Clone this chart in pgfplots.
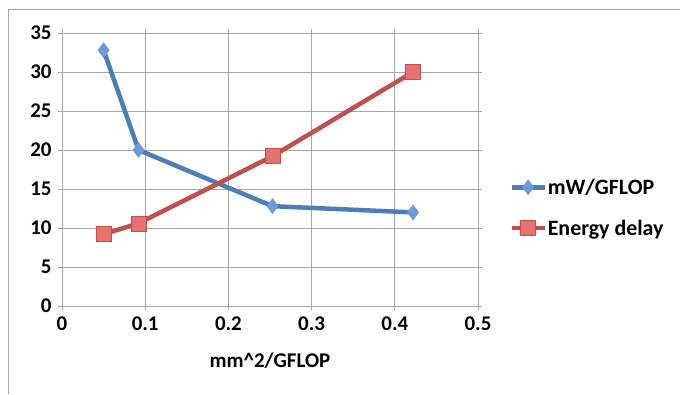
\documentclass[border=0pt]{standalone}
\usepackage{pgfplots}
\pgfplotsset{compat=1.18}
\usepackage{fontspec}
\setmainfont{Carlito}
\definecolor{bl}{HTML}{4A7EBB}
\definecolor{blf}{HTML}{6A9BD8}
\definecolor{rd}{HTML}{C0504D}
\definecolor{rdf}{HTML}{E8706C}
\definecolor{gr}{HTML}{A6A6A6}
\begin{document}
\begin{tikzpicture}[x=1bp,y=1bp]
\useasboundingbox (0,0) rectangle (680,394);
\draw[gr, line width=1bp] (8,0) -- (8,384) -- (680,384);
\begin{axis}[
  at={(62bp,88bp)}, anchor=south west,
  scale only axis, width=416bp, height=273bp,
  xmin=0, xmax=0.5, ymin=0, ymax=35,
  xtick={0,0.1,...,0.5}, ytick={0,5,...,35},
  xticklabels={0,0.1,0.2,0.3,0.4,0.5},
  grid=major,
  grid style={gr, line width=1bp},
  axis line style={gr, line width=1bp},
  tick style={gr, line width=1bp},
  tick align=outside, major tick length=4bp,
  tick label style={font=\fontsize{21}{23}\selectfont\bfseries},
  xticklabel style={yshift=-3bp},
  yticklabel style={xshift=-3bp},
  /pgf/number format/assume math mode=true,
  xlabel={mm\^{}2/GFLOP},
  xlabel style={font=\fontsize{21}{23}\selectfont\bfseries, at={(axis description cs:0.5,0)}, anchor=center, yshift=-55bp},
  legend style={at={(1.075,0.36)}, anchor=west, draw=none, fill=none,
    font=\fontsize{22}{24}\selectfont\bfseries, row sep=20bp,
    legend cell align=left, inner sep=0pt,
    nodes={inner xsep=1bp}},
  legend image code/.code={
    \draw[#1, mark repeat=2, mark phase=2] plot coordinates {(0cm,0cm) (0.58cm,0cm) (1.16cm,0cm)};},
  clip=false,
]
\addplot[bl, line width=4.5bp, mark=diamond*, mark size=7.5bp,
  mark options={fill=blf, draw=blf, line width=0.5bp}]
  coordinates {(0.05,32.8) (0.092,20.0) (0.253,12.8) (0.422,12.0)};
\addlegendentry{mW/GFLOP}
\addplot[rd, line width=4.5bp, mark=square*, mark size=7.5bp,
  mark options={fill=rdf, draw=rd, line width=0.5bp}]
  coordinates {(0.05,9.2) (0.092,10.6) (0.253,19.2) (0.422,30.0)};
\addlegendentry{Energy delay}
\end{axis}
\end{tikzpicture}
\end{document}
